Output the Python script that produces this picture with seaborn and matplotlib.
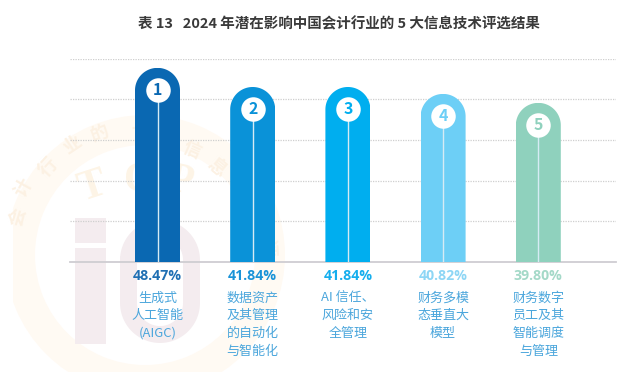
import matplotlib
matplotlib.use('Agg')
import matplotlib.pyplot as plt
from matplotlib.patches import Rectangle, Wedge
from matplotlib.path import Path
import numpy as np
import pandas as pd
import seaborn as sns

W, H = 621, 372

categories = ['生成式\n人工智能\n(AIGC)', '数据资产\n及其管理\n的自动化\n与智能化', 'AI 信任、\n风险和安\n全管理',
              '财务多模\n态垂直大\n模型', '财务数字\n员工及其\n智能调度\n与管理']
ranks = ['1', '2', '3', '4', '5']
percent_labels = ['48.47%', '41.84%', '41.84%', '40.82%', '39.80%']
# bar heights as drawn in the picture, gridlines every 10
bar_heights = [47.7, 43.0, 43.0, 41.3, 39.1]
bar_colors = ['#0a68b2', '#0a92d8', '#00aeef', '#6dcff6', '#8fd1bd']
text_colors = ['#1f6fb3', '#1a93d8', '#14aeee', '#8ed6f5', '#a4d9c8']
grid_ticks = [10, 20, 30, 40, 50]

title = '表 13   2024 年潜在影响中国会计行业的 5 大信息技术评选结果'

# watermark text
seal_chars = ['会', '计', '行', '业', '的', '十', '大', '信', '息', '技', '术', '评']
seal_x = [18, 23, 48, 72, 100, 140, 168, 192, 217, 240, 257, 267]
seal_y = [217, 188, 167, 145, 133, 130, 140, 150, 167, 190, 217, 247]

sns.set_theme(style='white')
plt.rcParams['font.family'] = ['Noto Sans CJK SC', 'DejaVu Sans']

df = pd.DataFrame({'cat': ranks, 'height': bar_heights})

fig = plt.figure(figsize=(W / 100, H / 100), dpi=100)

# faint seal watermark, behind everything
bg = fig.add_axes([0, 0, 1, 1], zorder=-1)
bg.set_xlim(0, W)
bg.set_ylim(H, 0)
bg.axis('off')
clip_box = Rectangle((13, 0), W, H, transform=bg.transData)
ring = Wedge((145, 255), 140, 0, 360, width=30, color='#fffaf3', lw=0)
bg.add_patch(ring)
ring.set_clip_path(clip_box)
for ch, cx, cy in zip(seal_chars, seal_x, seal_y):
    rot = -np.degrees(np.arctan2(cx - 145, 255 - cy))
    bg.text(cx, cy, ch, color='#fcf1e3', fontsize=13, fontweight='bold', rotation=rot,
            ha='center', va='center', rotation_mode='anchor')
for letter, cx, cy, rot in [('T', 92, 187, 18), ('O', 140, 181, 0), ('P', 180, 182, -12)]:
    bg.text(cx, cy, letter, color='#fdf4e6', fontsize=30, fontweight='bold', family='Liberation Serif',
            rotation=rot, ha='center', va='center', rotation_mode='anchor')
pink = '#f4ecef'
bg.add_patch(Rectangle((75, 218), 31, 25, color=pink, lw=0))
bg.add_patch(Rectangle((75, 248), 31, 96, color=pink, lw=0))
t = np.linspace(np.pi, 2 * np.pi, 50)
zx = list(160 + 31.5 * np.cos(t)) + list(160 - 31.5 * np.cos(t))
zy = list(260 + 31.5 * np.sin(t)) + list(303 - 31.5 * np.sin(t))
bg.plot(zx + zx[:1], zy + zy[:1], color=pink, lw=12.2)

# the axes covers the gridline span, from x 70 to 616 and y 262 up to 58
ax = fig.add_axes([70 / W, 1 - 262 / H, 546 / W, 203.5 / H])
x_unit = 95.2
y_unit = 40.7 / 10
first_x = 157.5

sns.barplot(data=df, x='cat', y='height', hue='cat', palette=bar_colors, legend=False,
            width=45 / x_unit, saturation=1, ax=ax, zorder=3, linewidth=0)
ax.set_xlim((70 - first_x) / x_unit, (616 - first_x) / x_unit)
ax.set_ylim(0, 50)
ax.set_xlabel('')
ax.set_ylabel('')
ax.set_xticks([])
ax.set_yticks(grid_ticks)
ax.set_yticklabels([])
ax.tick_params(length=0)
ax.grid(axis='y', color='#cfcfcf', linewidth=0.9, linestyle=(0, (1, 1)), zorder=0)
sns.despine(ax=ax, left=True, top=True, right=True)
ax.spines['bottom'].set_color('#cfcdd2')
ax.spines['bottom'].set_linewidth(1.3)
ax.patch.set_alpha(0)

# round off the bar tops, the radius is half a bar in pixels
for bar in ax.patches:
    x0, w, h = bar.get_x(), bar.get_width(), bar.get_height()
    ry = (w / 2 * x_unit) / y_unit
    t = np.linspace(np.pi, 0, 80)
    xs = x0 + w / 2 + w / 2 * np.cos(t)
    ys = h - ry + ry * np.sin(t)
    verts = [(x0, 0)] + list(zip(xs, ys)) + [(x0 + w, 0), (x0, 0)]
    bar.set_clip_path(Path(verts), ax.transData)

# rank circle and thin line inside each bar
for i, h in enumerate(bar_heights):
    cy = h - 22 / y_unit
    ax.plot([i, i], [0, cy], color='#d6ebf4', linewidth=1.0, zorder=4, solid_capstyle='butt')
    ax.scatter([i], [cy], s=(24.5 * 0.72) ** 2, color='white', linewidth=0, zorder=5)
    ax.text(i, cy, ranks[i], color=bar_colors[i], fontsize=11.5, fontweight='bold',
            ha='center', va='center', zorder=6)


# labels below the axis, placed in pixels
def px(x, y):
    return x / W, 1 - y / H


for i in range(5):
    cx = first_x + i * x_unit
    fig.text(*px(cx, 275.5), percent_labels[i], color=text_colors[i], fontsize=10.2, fontweight='bold',
             ha='center', va='center', family=['Open Sans', 'DejaVu Sans'])
    for j, line in enumerate(categories[i].split('\n')):
        fig.text(*px(cx, 298 + j * 17.7), line, color='#4ba6dc', fontsize=9.4, ha='center', va='center')

fig.text(*px(339, 24), title, color='#3a3a3a', fontsize=10.45, fontweight='bold', ha='center', va='center')

fig.savefig('out.png', dpi=100)
